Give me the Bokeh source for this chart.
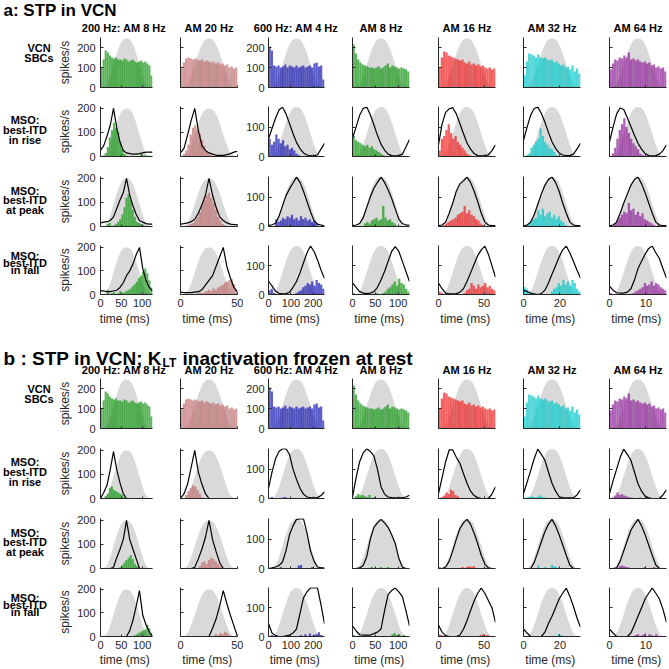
from bokeh.plotting import figure
from bokeh.layouts import row, column
from bokeh.models import Range1d, Label, FixedTicker
from bokeh.embed import file_html
from bokeh.resources import INLINE

# ---------------- data ----------------
COL_TITLES = ["200 Hz: AM 8 Hz", "AM 20 Hz", "600 Hz: AM 4 Hz", "AM 8 Hz",
              "AM 16 Hz", "AM 32 Hz", "AM 64 Hz"]
PERIOD_MS = [125, 50, 250, 125, 62.5, 31.25, 15.625]
X_TICKS = [[0, 50, 100], [0, 50], [0, 100, 200], [0, 50, 100], [0, 50], [0, 20], [0, 10]]
BAR_COLORS = ["#149614", "#be6e6e", "#1818b4", "#149614", "#f01e1e", "#00c8c8", "#8c1e96"]
ROW_LABELS = [["VCN", "SBCs"], ["MSO:", "best-ITD", "in rise"],
              ["MSO:", "best-ITD", "at peak"], ["MSO:", "best-ITD", "in fall"]]

# AM envelope (grey), normalised, vs phase of one AM period
ENV_PHASE = [0.0, 0.05, 0.1, 0.15, 0.2, 0.25, 0.3, 0.35, 0.4, 0.45, 0.5,
             0.55, 0.6, 0.65, 0.7, 0.75, 0.8, 0.85, 0.9, 0.95, 1.0]
ENV_SHAPE = [0.0, 0.0, 0.03, 0.12, 0.28, 0.46, 0.65, 0.81, 0.93, 0.99, 1.0,
             0.99, 0.93, 0.81, 0.65, 0.46, 0.28, 0.12, 0.03, 0.0, 0.0]
ENV_PEAK = [245, 200, 168]   # row 1, rows 2-4 cols 1-2, rows 2-4 cols 3-7

# black MSO curves sampled at these phases
LINE_PHASE = [0.0, 0.0625, 0.125, 0.1875, 0.25, 0.3125, 0.375, 0.4375, 0.5,
              0.5625, 0.625, 0.6875, 0.75, 0.8125, 0.875, 0.9375, 1.0]
N_BINS = 25

# VCN SBC rate histograms (spikes/s), 25 bins per AM period
VCN_RATE = [
    [100, 140, 185, 175, 160, 150, 145, 150, 140, 140, 135, 145, 140, 130, 135, 140, 130, 125, 130, 135, 125, 130, 120, 110, 60],
    [95, 125, 145, 150, 145, 140, 145, 140, 135, 140, 130, 135, 130, 125, 130, 120, 125, 115, 120, 110, 115, 100, 105, 95, 100],
    [205, 185, 110, 105, 110, 100, 105, 115, 100, 110, 105, 100, 110, 100, 105, 110, 100, 105, 110, 100, 120, 125, 105, 110, 40],
    [215, 170, 140, 125, 115, 110, 105, 100, 100, 95, 100, 105, 95, 100, 110, 120, 100, 110, 105, 100, 95, 100, 95, 90, 80],
    [100, 150, 180, 175, 160, 155, 150, 145, 140, 135, 140, 125, 120, 130, 115, 120, 110, 115, 105, 110, 100, 95, 100, 90, 95],
    [60, 130, 170, 165, 160, 150, 165, 150, 145, 150, 140, 135, 140, 125, 130, 120, 110, 115, 100, 105, 90, 110, 80, 95, 70],
    [90, 120, 140, 135, 150, 145, 160, 150, 175, 140, 145, 135, 140, 130, 125, 130, 120, 125, 110, 115, 100, 105, 95, 100, 80],
]

# panel a: MSO histograms
RISE_A = [
    [0, 5, 15, 40, 80, 110, 140, 120, 100, 60, 30, 10, 3, 0, 0, 0, 0, 0, 0, 10, 0, 5, 0, 3, 0],
    [0, 10, 25, 50, 90, 120, 130, 110, 95, 70, 45, 20, 10, 5, 0, 0, 0, 5, 0, 5, 0, 0, 3, 0, 0],
    [60, 40, 50, 75, 60, 45, 55, 35, 40, 25, 30, 20, 10, 5, 0, 0, 0, 0, 0, 0, 0, 0, 0, 0, 0],
    [70, 55, 50, 45, 40, 35, 40, 30, 35, 25, 20, 15, 10, 5, 0, 0, 0, 0, 0, 0, 0, 0, 0, 0, 0],
    [20, 60, 70, 90, 110, 80, 60, 70, 50, 40, 30, 20, 10, 5, 0, 0, 0, 0, 0, 0, 0, 3, 0, 0, 0],
    [0, 5, 10, 30, 40, 50, 60, 95, 70, 50, 40, 30, 25, 15, 5, 0, 0, 0, 0, 0, 3, 0, 0, 0, 0],
    [0, 10, 30, 60, 90, 110, 130, 100, 80, 60, 45, 35, 25, 10, 5, 0, 0, 0, 0, 0, 3, 0, 0, 0, 0],
]
PEAK_A = [
    [0, 0, 0, 10, 15, 0, 5, 10, 20, 30, 50, 80, 120, 135, 110, 70, 40, 20, 15, 10, 5, 0, 3, 0, 0],
    [0, 0, 0, 5, 10, 15, 25, 40, 60, 90, 110, 130, 140, 120, 100, 70, 40, 25, 10, 5, 0, 0, 0, 0, 0],
    [0, 0, 0, 25, 15, 20, 30, 25, 35, 30, 40, 25, 30, 20, 35, 25, 30, 20, 25, 15, 20, 10, 0, 0, 0],
    [0, 0, 0, 0, 0, 10, 15, 10, 20, 25, 30, 20, 25, 70, 30, 20, 25, 15, 10, 0, 0, 0, 0, 0, 0],
    [0, 0, 5, 10, 15, 20, 25, 30, 40, 45, 50, 70, 45, 55, 40, 35, 25, 20, 10, 5, 0, 0, 0, 0, 0],
    [0, 5, 10, 20, 25, 30, 55, 40, 60, 35, 45, 50, 30, 40, 25, 35, 20, 15, 5, 0, 0, 0, 0, 0, 0],
    [0, 0, 10, 20, 30, 40, 50, 45, 80, 55, 60, 40, 50, 35, 45, 25, 20, 15, 10, 5, 0, 5, 0, 0, 0],
]
FALL_A = [
    [0, 0, 0, 20, 0, 5, 10, 0, 5, 15, 5, 10, 15, 20, 25, 35, 45, 55, 70, 80, 95, 110, 90, 60, 30],
    [0, 0, 0, 0, 0, 0, 0, 5, 10, 5, 10, 15, 20, 15, 25, 20, 30, 35, 40, 50, 55, 60, 65, 45, 20],
    [15, 20, 5, 0, 0, 0, 0, 0, 0, 0, 0, 0, 5, 10, 15, 25, 30, 40, 35, 45, 30, 50, 40, 35, 20],
    [5, 0, 0, 0, 0, 0, 0, 0, 0, 3, 5, 0, 0, 5, 10, 20, 25, 35, 45, 30, 55, 40, 35, 20, 10],
    [10, 5, 0, 0, 0, 0, 0, 0, 0, 0, 0, 5, 15, 20, 40, 30, 20, 35, 25, 30, 40, 25, 30, 20, 15],
    [25, 20, 10, 5, 0, 0, 0, 0, 0, 0, 0, 0, 10, 20, 25, 40, 30, 50, 35, 45, 30, 50, 40, 20, 10],
    [5, 0, 0, 0, 0, 0, 0, 0, 0, 3, 5, 10, 15, 20, 25, 40, 30, 35, 45, 30, 40, 35, 25, 20, 15],
]
RISE_A_LINE = [
    [25, 45, 85, 130, 200, 120, 60, 25, 15, 12, 10, 10, 12, 15, 18, 18, 18],
    [15, 35, 90, 150, 200, 110, 45, 25, 15, 10, 5, 5, 5, 8, 12, 18, 22],
    [60, 95, 130, 158, 168, 145, 112, 78, 48, 27, 12, 5, 2, 2, 6, 25, 45],
    [62, 100, 140, 163, 168, 142, 108, 72, 42, 22, 8, 3, 2, 3, 8, 32, 58],
    [40, 110, 150, 162, 166, 145, 112, 78, 46, 25, 10, 3, 2, 3, 6, 20, 40],
    [55, 100, 140, 163, 168, 147, 117, 82, 50, 28, 12, 5, 3, 3, 8, 25, 45],
    [50, 100, 145, 165, 160, 132, 102, 72, 45, 25, 10, 3, 2, 3, 8, 20, 40],
]
PEAK_A_LINE = [
    [15, 18, 20, 25, 40, 75, 110, 140, 200, 130, 85, 50, 25, 18, 12, 10, 10],
    [10, 12, 15, 20, 30, 55, 90, 130, 200, 130, 80, 40, 25, 15, 10, 8, 8],
    [3, 6, 11, 35, 70, 105, 128, 148, 168, 150, 120, 85, 50, 20, 8, 5, 2],
    [3, 5, 10, 30, 65, 100, 130, 150, 168, 150, 125, 95, 60, 25, 10, 5, 5],
    [3, 5, 15, 45, 80, 120, 145, 155, 168, 150, 120, 85, 45, 15, 5, 3, 3],
    [2, 5, 15, 40, 75, 110, 140, 160, 168, 150, 120, 80, 45, 15, 5, 3, 3],
    [2, 5, 15, 45, 80, 110, 140, 160, 168, 145, 115, 80, 45, 15, 5, 3, 3],
]
FALL_A_LINE = [
    [15, 15, 12, 12, 15, 18, 30, 50, 80, 100, 130, 170, 200, 110, 60, 30, 15],
    [10, 8, 8, 8, 10, 12, 20, 40, 60, 80, 120, 160, 200, 120, 70, 30, 10],
    [46, 30, 12, 4, 2, 3, 8, 25, 45, 75, 110, 145, 168, 150, 120, 85, 55],
    [40, 25, 10, 5, 3, 5, 10, 25, 50, 80, 115, 150, 166, 150, 115, 80, 45],
    [40, 20, 5, 2, 2, 3, 8, 20, 45, 75, 105, 135, 155, 168, 140, 100, 60],
    [15, 10, 5, 2, 0, 3, 15, 40, 70, 100, 130, 155, 168, 145, 115, 85, 57],
    [29, 15, 6, 5, 5, 8, 20, 50, 90, 115, 140, 160, 168, 145, 125, 90, 57],
]

# panel b: KLT inactivation frozen at rest
RISE_B = [
    [0, 0, 10, 20, 45, 50, 35, 30, 25, 20, 15, 5, 0, 0, 0, 0, 0, 0, 0, 0, 0, 0, 0, 0, 0],
    [0, 0, 15, 30, 45, 55, 50, 35, 20, 5, 0, 0, 0, 0, 0, 0, 0, 0, 0, 0, 0, 0, 0, 0, 0],
    [0, 5, 0, 0, 0, 0, 3, 5, 0, 0, 0, 0, 0, 0, 0, 0, 0, 0, 0, 0, 0, 0, 0, 0, 0],
    [0, 8, 15, 10, 12, 8, 5, 12, 0, 5, 0, 0, 0, 0, 0, 0, 0, 0, 0, 0, 0, 0, 0, 0, 0],
    [0, 5, 10, 20, 15, 30, 25, 12, 8, 0, 0, 0, 0, 0, 0, 0, 0, 0, 0, 0, 0, 0, 0, 0, 0],
    [0, 3, 5, 8, 5, 3, 8, 10, 5, 3, 0, 0, 0, 0, 0, 0, 0, 0, 0, 0, 0, 0, 0, 0, 0],
    [0, 3, 10, 20, 12, 15, 10, 8, 5, 3, 0, 0, 0, 3, 0, 0, 0, 0, 0, 0, 0, 0, 0, 0, 0],
]
PEAK_B = [
    [0, 0, 0, 0, 0, 0, 0, 0, 0, 5, 15, 25, 35, 45, 55, 40, 20, 10, 5, 0, 0, 3, 0, 0, 0],
    [0, 0, 0, 0, 0, 0, 0, 0, 10, 25, 30, 20, 35, 45, 40, 30, 20, 10, 5, 0, 0, 0, 0, 0, 0],
    [0, 0, 0, 0, 0, 5, 0, 0, 0, 0, 0, 0, 0, 10, 12, 0, 0, 0, 0, 5, 0, 0, 0, 0, 0],
    [0, 0, 0, 0, 0, 0, 0, 0, 5, 0, 0, 0, 5, 0, 0, 5, 0, 0, 0, 0, 0, 0, 0, 0, 0],
    [5, 0, 0, 0, 0, 0, 0, 0, 0, 0, 5, 0, 5, 8, 5, 8, 0, 0, 0, 0, 0, 0, 0, 0, 0],
    [0, 0, 0, 0, 0, 0, 10, 0, 0, 5, 0, 0, 12, 8, 5, 0, 0, 0, 0, 0, 0, 0, 0, 0, 0],
    [0, 0, 0, 0, 8, 10, 8, 5, 3, 0, 0, 0, 0, 0, 0, 5, 0, 0, 0, 5, 0, 0, 0, 0, 0],
]
FALL_B = [
    [0, 0, 0, 0, 0, 0, 0, 0, 0, 0, 0, 0, 0, 0, 0, 0, 5, 10, 15, 20, 25, 30, 50, 35, 15],
    [0, 0, 0, 0, 0, 0, 0, 0, 0, 0, 0, 0, 0, 0, 0, 10, 5, 15, 10, 20, 15, 5, 0, 0, 0],
    [0, 5, 0, 0, 0, 0, 0, 0, 0, 0, 0, 0, 0, 0, 5, 0, 8, 0, 10, 0, 5, 8, 15, 5, 0],
    [5, 0, 0, 0, 0, 0, 0, 0, 0, 0, 0, 0, 0, 0, 0, 0, 0, 8, 12, 5, 8, 0, 5, 0, 0],
    [8, 5, 0, 0, 0, 0, 0, 0, 0, 0, 0, 0, 0, 0, 0, 0, 0, 0, 5, 8, 0, 5, 0, 0, 0],
    [0, 0, 0, 0, 0, 0, 0, 0, 0, 0, 0, 0, 0, 0, 0, 8, 5, 0, 0, 0, 0, 0, 0, 0, 0],
    [3, 0, 0, 0, 0, 0, 0, 0, 0, 0, 0, 5, 8, 0, 5, 10, 0, 8, 5, 0, 8, 0, 0, 0, 0],
]
RISE_B_LINE = [
    [0, 25, 55, 120, 195, 120, 65, 20, 0, 0, 0, 0, 0, 0, 0, 0, 0],
    [0, 20, 60, 130, 200, 110, 60, 20, 0, 0, 0, 0, 0, 0, 0, 0, 0],
    [34, 90, 135, 160, 169, 169, 150, 100, 65, 35, 15, 5, 2, 2, 3, 10, 23],
    [5, 70, 125, 155, 169, 160, 145, 100, 40, 15, 5, 3, 2, 2, 2, 5, 11],
    [17, 70, 125, 165, 165, 140, 120, 85, 52, 25, 10, 3, 0, 0, 0, 15, 40],
    [17, 55, 95, 135, 168, 150, 130, 90, 52, 25, 6, 3, 2, 2, 2, 12, 29],
    [17, 60, 100, 140, 168, 150, 130, 90, 50, 25, 8, 2, 0, 0, 0, 12, 29],
]
PEAK_B_LINE = [
    [0, 0, 0, 0, 5, 45, 80, 120, 200, 120, 80, 40, 0, 0, 0, 0, 0],
    [0, 0, 0, 0, 5, 40, 80, 130, 200, 120, 70, 25, 0, 0, 0, 0, 0],
    [0, 2, 5, 10, 22, 60, 115, 145, 167, 169, 169, 120, 60, 25, 5, 3, 2],
    [0, 0, 2, 10, 40, 100, 140, 155, 167, 155, 140, 115, 85, 35, 5, 0, 0],
    [0, 0, 5, 25, 60, 100, 135, 155, 167, 150, 120, 85, 45, 15, 2, 0, 0],
    [0, 0, 0, 20, 55, 90, 125, 150, 167, 145, 115, 80, 45, 12, 0, 0, 0],
    [0, 0, 2, 25, 60, 95, 130, 150, 167, 145, 115, 80, 45, 12, 0, 0, 0],
]
FALL_B_LINE = [
    [0, 0, 0, 0, 0, 0, 0, 0, 0, 25, 70, 130, 195, 90, 50, 20, 0],
    [0, 0, 0, 0, 0, 0, 0, 0, 0, 35, 75, 130, 195, 140, 90, 45, 0],
    [45, 12, 3, 0, 0, 2, 5, 12, 26, 80, 134, 155, 169, 169, 169, 110, 45],
    [37, 20, 6, 5, 5, 5, 10, 15, 26, 90, 145, 160, 168, 155, 138, 90, 37],
    [40, 15, 3, 0, 0, 0, 5, 25, 55, 90, 123, 150, 168, 150, 125, 100, 49],
    [26, 12, 0, 0, 0, 0, 15, 45, 70, 100, 130, 150, 168, 140, 105, 65, 32],
    [26, 12, 0, 0, 0, 0, 12, 40, 70, 100, 130, 150, 168, 150, 130, 95, 49],
]

PANELS = [
    [(VCN_RATE, None), (RISE_A, RISE_A_LINE), (PEAK_A, PEAK_A_LINE), (FALL_A, FALL_A_LINE)],
    [(VCN_RATE, None), (RISE_B, RISE_B_LINE), (PEAK_B, PEAK_B_LINE), (FALL_B, FALL_B_LINE)],
]

# ---------------- layout / style ----------------
FONT = "Liberation Sans"
AXC = "#262626"
FW, FH = 57, 50
LBL_W = 55
BL = [40, 7, 24, 5, 6, 6, 6]
BR = [21, 6, 23, 23, 22, 23, 3]
TOTAL_W = LBL_W + sum(BL) + 7 * FW + sum(BR)
ROW_PAD = [[(2, 9), (10, 10), (10, 9), (10, 33)],
           [(2, 10), (10, 10), (10, 9), (10, 32)]]
STRIP_H = [35, 48]
XLABEL_STANDOFF = [2, 1]


def blank(w, h):
    p = figure(width=w, height=h, x_range=Range1d(0, w), y_range=Range1d(h, 0),
               toolbar_location=None, output_backend="svg", min_border=0,
               x_axis_type=None, y_axis_type=None, title=None)
    p.outline_line_color = None
    p.background_fill_color = None
    p.border_fill_color = None
    return p


def txt(p, x, y, s, size, bold=True, align="center"):
    p.add_layout(Label(x=x, y=y, text=s, text_font=FONT, text_font_size=size,
                       text_font_style="bold" if bold else "normal", text_color="black",
                       text_align=align, text_baseline="middle"))


def frame_centers():
    xs, x = [], LBL_W
    for c in range(7):
        xs.append(x + BL[c] + FW / 2)
        x += BL[c] + FW + BR[c]
    return xs


def style_axis(a, ticks, show, standoff):
    a.ticker = FixedTicker(ticks=ticks)
    a.axis_line_color = AXC
    a.axis_line_width = 1
    a.major_tick_line_color = AXC
    a.minor_tick_line_color = None
    a.major_tick_out = 0
    a.major_tick_in = 3
    a.major_label_text_font = FONT
    a.major_label_text_color = AXC
    a.axis_label_text_font = FONT
    a.axis_label_text_font_style = "normal"
    a.axis_label_text_font_size = "12px"
    a.axis_label_text_color = AXC
    if show:
        a.major_label_text_font_size = "11px"
        a.major_label_standoff = standoff
    else:
        a.major_label_overrides = {t: "" for t in ticks}
        a.major_label_text_font_size = "1px"
        a.major_label_text_color = None
        a.major_label_standoff = 0


def make_sub(panel, c, r, hist, line, bt, bb):
    T = PERIOD_MS[c]
    if r == 0:
        ymax, yt, env = 250, [0, 100, 200], ENV_PEAK[0]
    elif c < 2:
        ymax, yt, env = 208, [0, 100, 200], ENV_PEAK[1]
    else:
        ymax, yt, env = 170, [0, 100], ENV_PEAK[2]
    p = figure(width=BL[c] + FW + BR[c], height=bt + FH + bb,
               x_range=Range1d(0, T), y_range=Range1d(0, ymax),
               toolbar_location=None, output_backend="svg", title=None,
               min_border_left=BL[c], min_border_right=BR[c],
               min_border_top=bt, min_border_bottom=bb)
    p.outline_line_color = None
    p.grid.visible = False
    p.background_fill_color = "white"
    p.border_fill_color = "white"

    p.varea(x=[v * T for v in ENV_PHASE], y1=[0] * len(ENV_PHASE),
            y2=[v * env for v in ENV_SHAPE], fill_color="#d9d9d9")
    w = T / N_BINS
    p.vbar(x=[(i + 0.5) * w for i in range(N_BINS)], width=w, bottom=0, top=hist,
           fill_color=BAR_COLORS[c], fill_alpha=0.7, line_color=None)
    if line is not None:
        p.line(x=[v * T for v in LINE_PHASE], y=line, line_color="black", line_width=1.2)

    xa, ya = p.xaxis[0], p.yaxis[0]
    style_axis(xa, X_TICKS[c], r == 3, 4)
    xa.major_tick_in = 2
    style_axis(ya, yt, c in (0, 2), 5 if c == 0 else 4)
    if c == 0:
        ya.axis_label = "spikes/s"
        ya.axis_label_standoff = 2
    if r == 3:
        xa.axis_label = "time  (ms)"
        xa.axis_label_standoff = XLABEL_STANDOFF[panel]
    return p


def make_label(r, h, bt):
    p = blank(LBL_W, h)
    if r == 0:
        offs, xc = [10.5, 23.5], 38.5
    else:
        offs, xc = [9.5, 23, 36.5], 24.5
    for s, o in zip(ROW_LABELS[r], offs):
        txt(p, xc, bt + o, s, "11px")
    return p


blocks = []
xc = frame_centers()
for panel in range(2):
    sh = STRIP_H[panel]
    st = blank(TOTAL_W, sh)
    if panel == 0:
        txt(st, 3, 9.7, "a: STP in VCN", "17px", align="left")
        hy = 27.9
    else:
        txt(st, 3, 30, "b : STP in VCN; K", "19px", align="left")
        txt(st, 162, 34.5, "LT", "12px", align="left")
        txt(st, 182, 30, "inactivation frozen at rest", "19px", align="left")
        hy = 41.5
    for c in range(7):
        txt(st, xc[c], hy, COL_TITLES[c], "11px")
    blocks.append(st)
    for r in range(4):
        bt, bb = ROW_PAD[panel][r]
        h = bt + FH + bb
        hists, lines = PANELS[panel][r]
        figs = [make_label(r, h, bt)]
        for c in range(7):
            figs.append(make_sub(panel, c, r, hists[c], None if lines is None else lines[c], bt, bb))
        blocks.append(row(*figs))

p = column(*blocks)

open("out.html", "w").write(file_html(p, INLINE))
